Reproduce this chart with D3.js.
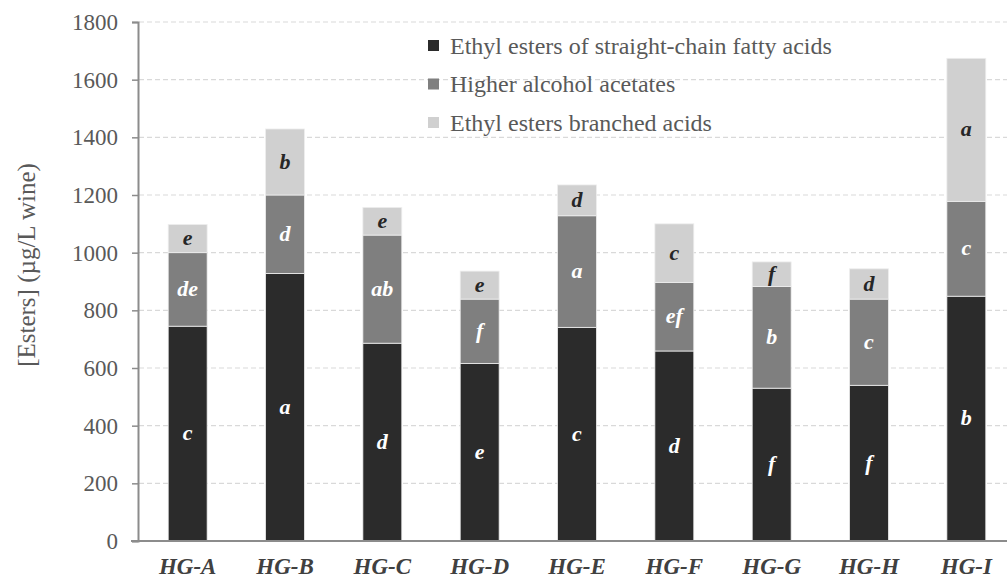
<!DOCTYPE html>
<html><head><meta charset="utf-8">
<script src="https://cdn.jsdelivr.net/npm/d3@7"></script>
<style>body{margin:0;background:#fff}svg{display:block}</style>
</head><body>
<script>
const categories = ["HG-A","HG-B","HG-C","HG-D","HG-E","HG-F","HG-G","HG-H","HG-I"];
const seriesNames = ["Ethyl esters of straight-chain fatty acids","Higher alcohol acetates","Ethyl esters branched acids"];
const straightChain = [745, 928, 686, 616, 741, 659, 530, 540, 849];
const acetates      = [255, 272, 375, 223, 387, 238, 353, 299, 329];
const branched      = [98, 229, 96, 97, 107, 203, 85, 105, 496];
const lettersStraight = ["c","a","d","e","c","d","f","f","b"];
const lettersAcetates = ["de","d","ab","f","a","ef","b","c","c"];
const lettersBranched = ["e","b","e","e","d","c","f","d","a"];
const yTicks = [0,200,400,600,800,1000,1200,1400,1600,1800];

const FONT = "Liberation Serif";
const W = 1007, H = 579;
const svg = d3.select("body").append("svg").attr("width", W).attr("height", H);
const x = d3.scaleBand().domain(categories).range([139, 1015]).paddingInner(0.6).paddingOuter(0.3);
const y = d3.scaleLinear().domain([0, 1800]).range([541, 22]);

// gridlines
svg.append("g").selectAll("line").data(yTicks.slice(1)).join("line")
  .attr("x1", 139).attr("x2", W).attr("y1", d => y(d)).attr("y2", d => y(d))
  .attr("stroke", "#d9d9d9").attr("stroke-width", 1.2).attr("stroke-dasharray", "5,3");

const colors = ["#2b2b2b", "#7f7f7f", "#d0d0d0"];
const letters = [lettersStraight, lettersAcetates, lettersBranched];
const rows = categories.map((c, i) => ({cat: c, s0: straightChain[i], s1: acetates[i], s2: branched[i]}));
const stacked = d3.stack().keys(["s0","s1","s2"])(rows);

stacked.forEach((layer, k) => {
  const g = svg.append("g");
  g.selectAll("rect").data(layer).join("rect")
    .attr("x", d => x(d.data.cat)).attr("width", x.bandwidth())
    .attr("y", d => y(d[1])).attr("height", d => y(d[0]) - y(d[1]))
    .attr("fill", colors[k]).attr("stroke", "#eeeeee").attr("stroke-width", 0.8);
  g.selectAll("text").data(layer).join("text")
    .attr("x", d => x(d.data.cat) + x.bandwidth() / 2)
    .attr("y", d => (y(d[0]) + y(d[1])) / 2)
    .attr("dy", "0.3em").attr("text-anchor", "middle")
    .attr("font-family", FONT).attr("font-style", "italic").attr("font-weight", "bold")
    .attr("font-size", 22).attr("fill", k === 2 ? "#262626" : "#ffffff")
    .text((d, i) => letters[k][i]);
});

// y axis
const ya = svg.append("g").attr("transform", "translate(138,0)")
  .call(d3.axisLeft(y).tickValues(yTicks).tickSize(6).tickPadding(14).tickFormat(d3.format("d")));
ya.select(".domain").attr("stroke", "#8c8c8c").attr("stroke-width", 2);
ya.selectAll(".tick line").attr("stroke", "#8c8c8c").attr("stroke-width", 1.5);
ya.selectAll("text").attr("font-family", FONT).attr("font-size", 23).attr("fill", "#595959");

// x axis
const xa = svg.append("g").attr("transform", "translate(0,541)")
  .call(d3.axisBottom(x).tickSize(0).tickPadding(17));
xa.select(".domain").attr("stroke", "#8c8c8c").attr("stroke-width", 2).attr("d", "M131,0H1007");
xa.selectAll("text").attr("font-family", FONT).attr("font-style", "italic")
  .attr("font-weight", "bold").attr("font-size", 23).attr("fill", "#404040");

// y title
svg.append("text").attr("transform", "translate(35,265) rotate(-90)")
  .attr("text-anchor", "middle").attr("font-family", FONT)
  .attr("font-size", 25).attr("fill", "#595959").text("[Esters] (µg/L wine)");

// legend
const lg = svg.append("g").attr("transform", "translate(428,46)");
seriesNames.forEach((n, i) => {
  const r = lg.append("g").attr("transform", `translate(0,${i * 38.5})`);
  r.append("rect").attr("x", 0).attr("y", -6).attr("width", 11).attr("height", 11).attr("fill", colors[i]);
  r.append("text").attr("x", 22).attr("y", 0).attr("dy", "0.33em")
    .attr("font-family", FONT).attr("font-size", 24).attr("fill", "#595959").text(n);
});
</script>
</body></html>
